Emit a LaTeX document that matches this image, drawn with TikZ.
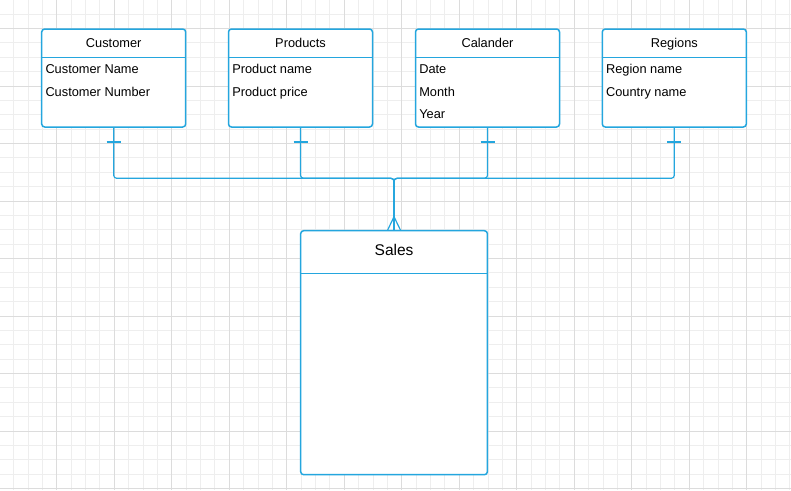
\documentclass[tikz,border=0pt]{standalone}
\usepackage{fontspec}
\setmainfont{Liberation Sans}
\definecolor{erdblue}{RGB}{36,166,222}
\definecolor{gridmin}{RGB}{238,238,238}
\definecolor{gridmaj}{RGB}{220,220,220}
\begin{document}
\begin{tikzpicture}[x=1pt,y=-1pt,
  gridminor/.style={gridmin,line width=0.9pt},
  gridmajor/.style={gridmaj,line width=1pt},
  entity/.style={draw=erdblue,fill=white,line width=1.5pt,rounded corners=3pt,inner sep=0pt,outer sep=0pt,anchor=north west},
  sep/.style={draw=erdblue,line width=1.5pt},
  title/.style={font=\fontsize{12.8}{14}\selectfont,inner sep=0pt,anchor=base},
  bigtitle/.style={font=\fontsize{15.5}{17}\selectfont,inner sep=0pt,anchor=base},
  attr/.style={font=\fontsize{12.8}{14}\selectfont,inner sep=0pt,anchor=base west},
  conn/.style={draw=erdblue,line width=1.2pt,rounded corners=3pt},
  tick/.style={draw=erdblue,line width=1.2pt}]
\useasboundingbox (0,0) rectangle (791,490);
\fill[white] (0,0) rectangle (791,490);
% grid
\foreach \i in {0,...,55} { \draw[gridminor] ({-0.8+14.375*\i},0) -- ++(0,490); }
\foreach \i in {0,...,34} { \draw[gridminor] (0,{-0.25+14.375*\i}) -- ++(791,0); }
\foreach \m in {0,...,13} { \draw[gridmajor] ({-0.8+57.5*\m},0) -- ++(0,490); }
\foreach \m in {0,...,8} { \draw[gridmajor] (0,{28.5+57.5*\m}) -- ++(791,0); }

% entities
\node[entity,minimum width=144pt,minimum height=98pt] (cust) at (41.7,29) {};
\node[entity,minimum width=144pt,minimum height=98pt] (prod) at (228.5,29) {};
\node[entity,minimum width=144pt,minimum height=98pt] (cal)  at (415.5,29) {};
\node[entity,minimum width=144pt,minimum height=98pt] (reg)  at (602.3,29) {};
\node[entity,minimum width=186.7pt,minimum height=244pt] (sales) at (300.7,230.7) {};

% header separators
\foreach \b in {cust,prod,cal,reg} {
  \draw[sep] (\b.west |- 0,57.7) -- (\b.east |- 0,57.7);
}
\draw[sep] (sales.west |- 0,273.7) -- (sales.east |- 0,273.7);

% titles
\node[title] (custT) at (cust.north |- 0,47.3) {Customer};
\node[title] (prodT) at (prod.north |- 0,47.3) {Products};
\node[title] (calT)  at (cal.north |- 0,47.3) {Calander};
\node[title] (regT)  at (reg.north |- 0,47.3) {Regions};
\node[bigtitle] (salesT) at (sales.north |- 0,255) {Sales};

% attributes
\node[attr] (c1) at (45.3,73.3) {Customer Name};
\node[attr] (c2) at (45.3,96) {Customer Number};
\node[attr] (p1) at (232.1,73.3) {Product name};
\node[attr] (p2) at (232.1,96) {Product price};
\node[attr] (k1) at (419.1,73.3) {Date};
\node[attr] (k2) at (419.1,96) {Month};
\node[attr] (k3) at (419.1,118.8) {Year};
\node[attr] (r1) at (605.9,73.3) {Region name};
\node[attr] (r2) at (605.9,96) {Country name};

% connectors
\coordinate (bus) at (394,178.3);
\coordinate (foot) at (394,216.7);
\foreach \b in {cust,prod,cal,reg} {
  \draw[conn] (\b.south) |- (bus) -- (sales.north);
  \draw[tick] ([xshift=-7pt,yshift=-15pt]\b.south) -- ([xshift=7pt,yshift=-15pt]\b.south);
}
% crow's foot
\draw[tick] (foot) -- ([xshift=-6.7pt]sales.north);
\draw[tick] (foot) -- ([xshift=6.7pt]sales.north);
\end{tikzpicture}
\end{document}
